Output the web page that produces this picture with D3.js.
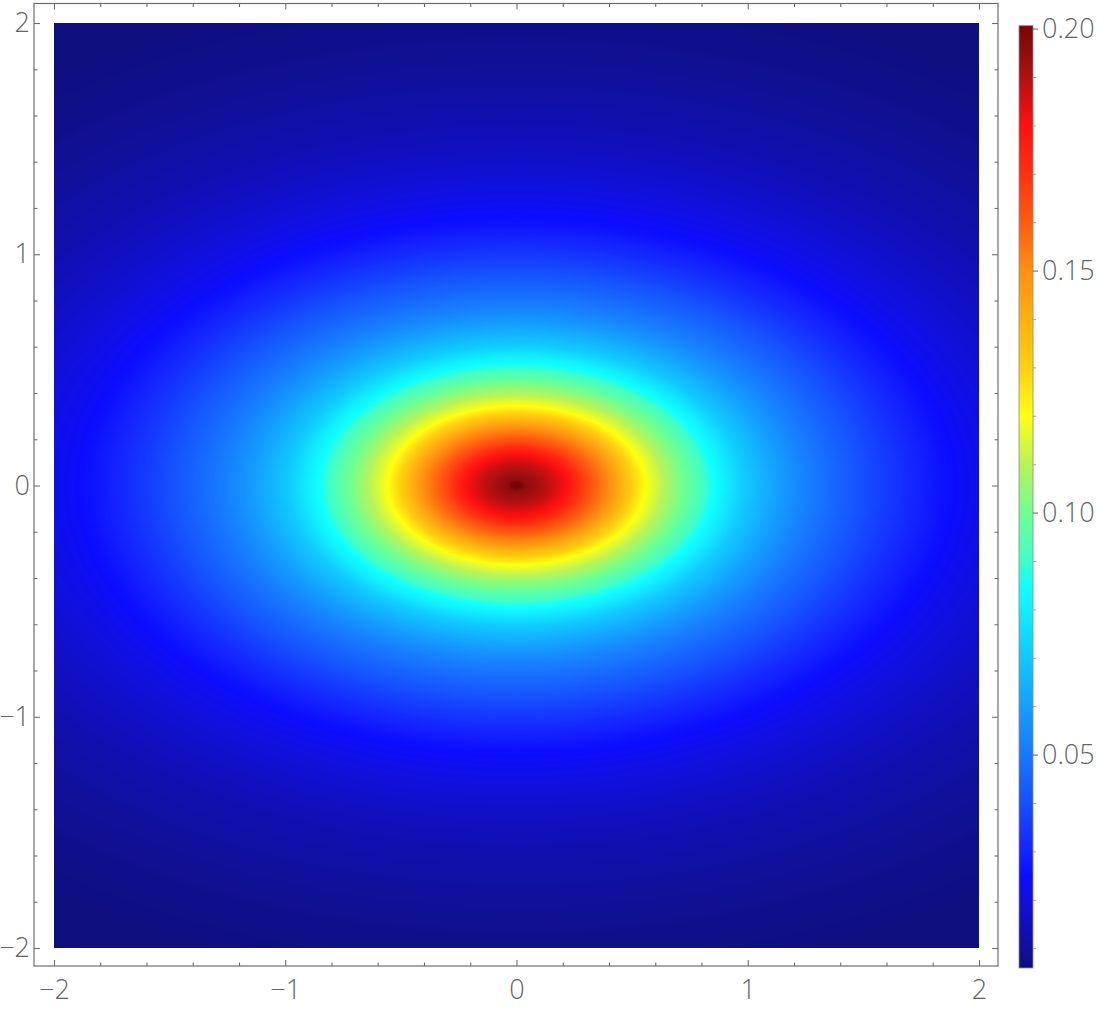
<!DOCTYPE html>
<html>
<head>
<meta charset="utf-8">
<script src="https://cdn.jsdelivr.net/npm/d3@7"></script>
<style>
body { margin: 0; background: #fff; }
text { font-family: "Open Sans", sans-serif; font-weight: 300; fill: #666; font-size: 27px; }
</style>
</head>
<body>
<div id="chart"></div>
<script>
// density (y = 0), by distance from the centre
var radius = [0, 0.025, 0.035, 0.05, 0.07, 0.115, 0.16, 0.217, 0.30, 0.404, 0.477, 0.556, 0.635, 0.72, 0.81, 0.87, 0.98,
    1.125, 1.27, 1.41, 1.56, 1.70, 1.845, 2.0, 2.25, 2.5, 2.86, 3.2, 3.6, 4.0];
var density = [0.2006, 0.2, 0.1965, 0.1948, 0.1935, 0.19, 0.186, 0.18, 0.165, 0.15, 0.135, 0.12, 0.11, 0.10, 0.09, 0.083, 0.071,
    0.06, 0.051, 0.044, 0.037, 0.031, 0.026, 0.022, 0.0175, 0.0138, 0.0100, 0.0075, 0.0055, 0.0040];
// contours are ellipses, wider than tall by this factor
var aspect = 1.62;

// colour function, value -> colour
var colorValues = [0.0059, 0.010, 0.020, 0.025, 0.030, 0.040, 0.050, 0.060, 0.070, 0.080, 0.085, 0.090, 0.100,
    0.110, 0.120, 0.130, 0.140, 0.150, 0.160, 0.170, 0.180, 0.185, 0.190, 0.195, 0.2, 0.2006];
var colorHex = ["#0f0f80", "#10109c", "#1010dc", "#0c0cff", "#1424ff", "#1650ff", "#1878ff", "#14a0ff", "#10c8ff",
    "#10f0ff", "#10ffff", "#40ffc8", "#70ff90", "#b8f458", "#ffff10", "#ffd010", "#ffb010", "#ff9010", "#ff5c10",
    "#ff3010", "#ff1010", "#d81010", "#b01010", "#900e0e", "#7c0505", "#780303"];

var axisTicks = [-2, -1, 0, 1, 2];
var axisMinor = [-1.8, -1.6, -1.4, -1.2, -0.8, -0.6, -0.4, -0.2, 0.2, 0.4, 0.6, 0.8, 1.2, 1.4, 1.6, 1.8];
var barTicks = [0.05, 0.10, 0.15, 0.20];
var barMinor = [0.01, 0.02, 0.03, 0.04, 0.06, 0.07, 0.08, 0.09, 0.11, 0.12, 0.13, 0.14, 0.16, 0.17, 0.18, 0.19];

var W = 1097, H = 1012;
var frame = { left: 34, right: 998, top: 3.5, bottom: 966 };

var svg = d3.select("#chart").append("svg")
    .attr("width", W)
    .attr("height", H);

var x = d3.scaleLinear().domain([-2, 2]).range([54, 979]);
var y = d3.scaleLinear().domain([-2, 2]).range([948, 23]);

var profile = d3.scaleLinear().domain(radius).range(density).clamp(true);
var color = d3.scaleLinear().domain(colorValues).range(colorHex).clamp(true);

// density image
var pw = Math.round(x(2) - x(-2)), ph = Math.round(y(-2) - y(2));
var canvas = document.createElement("canvas");
canvas.width = pw;
canvas.height = ph;
var ctx = canvas.getContext("2d");
var img = ctx.createImageData(pw, ph);

// lookup table over the elliptical radius
var nLut = 8192, rMax = 4.2;
var lut = [];
for (var k = 0; k < nLut; k++) {
    lut.push(d3.rgb(color(profile(k / (nLut - 1) * rMax))));
}

for (var j = 0; j < ph; j++) {
    var yv = y.invert(y(2) + j + 0.5) * aspect;
    for (var i = 0; i < pw; i++) {
        var xv = x.invert(x(-2) + i + 0.5);
        var r = Math.sqrt(xv * xv + yv * yv);
        var c = lut[Math.min(nLut - 1, Math.round(r / rMax * (nLut - 1)))];
        var p = (j * pw + i) * 4;
        img.data[p] = c.r;
        img.data[p + 1] = c.g;
        img.data[p + 2] = c.b;
        img.data[p + 3] = 255;
    }
}
ctx.putImageData(img, 0, 0);

svg.append("image")
    .attr("x", x(-2))
    .attr("y", y(2))
    .attr("width", pw)
    .attr("height", ph)
    .attr("href", canvas.toDataURL());

// frame
svg.append("rect")
    .attr("x", frame.left)
    .attr("y", frame.top)
    .attr("width", frame.right - frame.left)
    .attr("height", frame.bottom - frame.top)
    .attr("fill", "none")
    .attr("stroke", "#6e6e6e")
    .attr("stroke-width", 1.2);

function drawAxis(axisFn, scale, pos, values, size, labels, pad) {
    var g = svg.append("g")
        .attr("transform", pos)
        .call(axisFn(scale)
            .tickValues(values)
            .tickSizeInner(size)
            .tickSizeOuter(0)
            .tickPadding(pad || 0)
            .tickFormat(labels ? d3.format("d") : ""));
    g.select(".domain").remove();
    g.selectAll(".tick line").attr("stroke", "#6e6e6e").attr("stroke-width", 1.1);
    g.selectAll(".tick text").attr("fill", "#666").attr("font-size", null).attr("font-family", null);
    return g;
}

drawAxis(d3.axisBottom, x, "translate(0," + frame.bottom + ")", axisTicks, -6, true, 14);
drawAxis(d3.axisBottom, x, "translate(0," + frame.bottom + ")", axisMinor, -3.5, false);
drawAxis(d3.axisTop, x, "translate(0," + frame.top + ")", axisTicks, -6, false);
drawAxis(d3.axisTop, x, "translate(0," + frame.top + ")", axisMinor, -3.5, false);
drawAxis(d3.axisLeft, y, "translate(" + frame.left + ",0)", axisTicks, -6, true, 4);
drawAxis(d3.axisLeft, y, "translate(" + frame.left + ",0)", axisMinor, -3.5, false);
drawAxis(d3.axisRight, y, "translate(" + frame.right + ",0)", axisTicks, -6, false);
drawAxis(d3.axisRight, y, "translate(" + frame.right + ",0)", axisMinor, -3.5, false);

// colour bar
var bar = { x: 1019, w: 14 };
var yBar = d3.scaleLinear().domain([colorValues[0], colorValues[colorValues.length - 1]]).range([968, 25.7]);

var grad = svg.append("defs").append("linearGradient")
    .attr("id", "bargrad")
    .attr("x1", 0).attr("y1", 1).attr("x2", 0).attr("y2", 0);
grad.selectAll("stop")
    .data(colorValues)
    .enter().append("stop")
    .attr("offset", function (d) { return (d - colorValues[0]) / (colorValues[colorValues.length - 1] - colorValues[0]); })
    .attr("stop-color", function (d) { return color(d); });

svg.append("rect")
    .attr("x", bar.x)
    .attr("y", yBar.range()[1])
    .attr("width", bar.w)
    .attr("height", yBar.range()[0] - yBar.range()[1])
    .attr("fill", "url(#bargrad)")
    .attr("stroke", "#8a8a8a")
    .attr("stroke-width", 0.8);

var gb = drawAxis(d3.axisRight, yBar, "translate(" + (bar.x + bar.w) + ",0)", barTicks, 5, true, 4);
gb.selectAll(".tick text").text(function (d) { return d3.format(".2f")(d); });
var gm = drawAxis(d3.axisRight, yBar, "translate(" + (bar.x + bar.w) + ",0)", barMinor, 3, false);
gm.selectAll(".tick line").attr("stroke", "#aaa");
</script>
</body>
</html>
